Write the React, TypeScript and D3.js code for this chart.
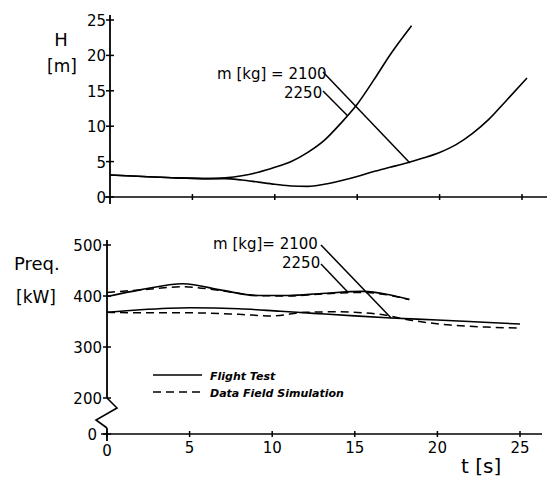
import React from 'react';
import * as d3 from 'd3';

// time ticks (s)
const tTicks = [0, 5, 10, 15, 20, 25];
const hTicks = [0, 5, 10, 15, 20, 25];
const pTicks = [0, 200, 300, 400, 500];

// height H [m]; the early-rising curve and the late one
const tH1 = [0, 2, 4, 6, 7, 8, 9, 10, 11, 12, 13, 14, 15, 16, 17, 18.3];
const h1 = [3.1, 2.9, 2.7, 2.6, 2.7, 3.0, 3.5, 4.2, 5.0, 6.3, 8.0, 10.4, 13.1, 16.5, 20.1, 24.2];
const tH2 = [0, 2, 4, 6, 7, 8, 9, 10, 11, 12, 13, 14, 15, 16, 17, 18, 19, 20, 21, 22, 23, 24, 25.3];
const h2 = [3.1, 2.9, 2.7, 2.6, 2.6, 2.4, 2.1, 1.8, 1.55, 1.5, 1.8, 2.3, 2.9, 3.6, 4.2, 4.8, 5.5, 6.3, 7.4, 9.0, 11.0, 13.5, 16.8];

// required power [kW]
const tP1 = [0, 2, 4.6, 7, 9, 11, 13, 15.5, 17, 18.3];
const p1Test = [399, 412, 424, 411, 401, 401, 405, 409, 403, 393];
const p1Sim = [407, 412, 418, 410, 401, 400, 404, 407, 402, 393];
const tP2Test = [0, 2, 5, 8, 10.5, 12.5, 15, 17.2, 20, 22.5, 25];
const p2Test = [368, 373, 377, 375, 370, 366, 361, 357, 353, 349, 345];
const tP2Sim = [0, 2, 5, 8, 10, 12, 14, 16.5, 18.5, 20.8, 23, 25];
const p2Sim = [368, 367, 367, 364, 361, 368, 369, 364, 352, 343, 339, 337];

const font = 'DejaVu Sans, sans-serif';

const App = () => {
  const xTop = d3.scaleLinear().domain([0, 25]).range([110, 522]);
  const yTop = d3.scaleLinear().domain([0, 25]).range([197, 20]);
  const xBot = d3.scaleLinear().domain([0, 25]).range([107, 520]);
  const yBot = d3.scaleLinear().domain([0, 200, 500]).range([434, 398, 245]);

  const lineTop = (ts: number[], vs: number[]) =>
    d3.line<number>().x((d, i) => xTop(ts[i])).y(d => yTop(d)).curve(d3.curveMonotoneX)(vs) || '';
  const lineBot = (ts: number[], vs: number[]) =>
    d3.line<number>().x((d, i) => xBot(ts[i])).y(d => yBot(d)).curve(d3.curveMonotoneX)(vs) || '';

  const x0t = xTop(0);
  const x0b = xBot(0);
  const yb0 = yBot(0);

  return (
    <svg width={550} height={480} style={{ position: 'absolute', left: 0, top: 0, background: '#fff' }}
      fontFamily={font} fill="#000">
      {/* ---------- top panel ---------- */}
      <line x1={x0t} x2={x0t} y1={15} y2={204} stroke="#000" strokeWidth={1.8} />
      <line x1={x0t - 5} x2={547} y1={yTop(0)} y2={yTop(0)} stroke="#000" strokeWidth={1.6} />
      {hTicks.map(v => (
        <g key={'h' + v}>
          <line x1={x0t - 4} x2={x0t + 4} y1={yTop(v)} y2={yTop(v)} stroke="#000" strokeWidth={1.5} />
          <text x={x0t - 4} y={yTop(v) + 6} textAnchor="end" fontSize={15}>{v}</text>
        </g>
      ))}
      {tTicks.slice(1).map(v => (
        <line key={'tt' + v} x1={xTop(v)} x2={xTop(v)} y1={yTop(0) - 3} y2={yTop(0) + 3} stroke="#000" strokeWidth={1.5} />
      ))}
      <text x={61} y={46} textAnchor="middle" fontSize={18}>H</text>
      <text x={62} y={72} textAnchor="middle" fontSize={17}>[m]</text>

      <path d={lineTop(tH1, h1)} fill="none" stroke="#000" strokeWidth={1.6} />
      <path d={lineTop(tH2, h2)} fill="none" stroke="#000" strokeWidth={1.6} />

      <text x={217} y={79} fontSize={15}>m [kg] = 2100</text>
      <text x={284} y={98} fontSize={15}>2250</text>
      <line x1={323} y1={72} x2={xTop(18.2)} y2={yTop(4.8)} stroke="#000" strokeWidth={1.5} />
      <line x1={323} y1={91} x2={xTop(14.4)} y2={yTop(11.5)} stroke="#000" strokeWidth={1.5} />

      {/* ---------- bottom panel ---------- */}
      <line x1={x0b} x2={x0b} y1={240} y2={yBot(200)} stroke="#000" strokeWidth={1.8} />
      <polyline points={`${x0b},${yBot(200)} ${x0b + 10},${yBot(200) + 10} ${x0b - 11},${yBot(200) + 22} ${x0b},${yBot(200) + 30}`}
        fill="none" stroke="#000" strokeWidth={1.6} />
      <line x1={x0b} x2={x0b} y1={yBot(200) + 30} y2={441} stroke="#000" strokeWidth={1.8} />
      <line x1={x0b - 6} x2={542} y1={yb0} y2={yb0} stroke="#000" strokeWidth={1.6} />
      {pTicks.map(v => (
        <g key={'p' + v}>
          <line x1={x0b - 4} x2={x0b + 4} y1={yBot(v)} y2={yBot(v)} stroke="#000" strokeWidth={1.5} />
          <text x={v === 0 ? x0b - 10 : x0b - 5} y={yBot(v) + 6} textAnchor="end" fontSize={15}>{v}</text>
        </g>
      ))}
      {tTicks.map(v => (
        <g key={'tb' + v}>
          <line x1={xBot(v)} x2={xBot(v)} y1={yb0 - 3} y2={yb0 + 3} stroke="#000" strokeWidth={1.5} />
          <text x={xBot(v)} y={v === 0 ? 456 : 453} textAnchor="middle" fontSize={15}>{v}</text>
        </g>
      ))}
      <text x={14} y={270} fontSize={18}>Preq.</text>
      <text x={16} y={303} fontSize={17}>[kW]</text>
      <text x={461} y={473} fontSize={20}>t [s]</text>

      <path d={lineBot(tP1, p1Test)} fill="none" stroke="#000" strokeWidth={1.6} />
      <path d={lineBot(tP1, p1Sim)} fill="none" stroke="#000" strokeWidth={1.5} strokeDasharray="8,5" />
      <path d={lineBot(tP2Test, p2Test)} fill="none" stroke="#000" strokeWidth={1.6} />
      <path d={lineBot(tP2Sim, p2Sim)} fill="none" stroke="#000" strokeWidth={1.5} strokeDasharray="8,5" />

      <text x={213} y={249} fontSize={15}>m [kg]= 2100</text>
      <text x={282} y={268} fontSize={15}>2250</text>
      <line x1={321} y1={245} x2={xBot(17.2)} y2={yBot(357)} stroke="#000" strokeWidth={1.5} />
      <line x1={321} y1={264} x2={xBot(14.6)} y2={yBot(407)} stroke="#000" strokeWidth={1.5} />

      {/* legend */}
      <line x1={153} x2={202} y1={375} y2={375} stroke="#000" strokeWidth={1.6} />
      <text x={210} y={380} fontSize={11} fontWeight="bold" fontStyle="italic">Flight Test</text>
      <line x1={153} x2={202} y1={392} y2={392} stroke="#000" strokeWidth={1.5} strokeDasharray="8,5" />
      <text x={210} y={397} fontSize={11} fontWeight="bold" fontStyle="italic">Data Field Simulation</text>
    </svg>
  );
};

export default App;
